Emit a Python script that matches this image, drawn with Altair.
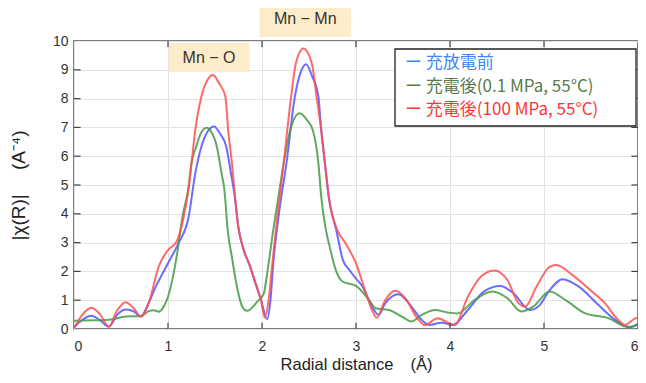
import altair as alt
import pandas as pd

# ---------------- data ----------------
series_names = ["充放電前", "充電後(0.1 MPa, 55°C)", "充電後(100 MPa, 55°C)"]

blue_x = [0.00, 0.09, 0.185, 0.28, 0.37, 0.46, 0.55, 0.64, 0.71, 0.78, 0.87, 1.00, 1.11, 1.22,
          1.29, 1.355, 1.42, 1.49, 1.55, 1.62, 1.67, 1.71, 1.75, 1.80, 1.87, 1.93, 1.99, 2.055,
          2.09, 2.12, 2.18, 2.26, 2.35, 2.41, 2.47, 2.53, 2.60, 2.63, 2.67, 2.71, 2.79, 2.86,
          2.93, 3.00, 3.07, 3.17, 3.24, 3.31, 3.45, 3.59, 3.70, 3.78, 3.91, 4.03, 4.19, 4.36,
          4.535, 4.675, 4.85, 4.955, 5.06, 5.20, 5.37, 5.58, 5.76, 5.90, 5.99]
blue_y = [0.05, 0.32, 0.46, 0.30, 0.08, 0.50, 0.68, 0.60, 0.43, 0.80, 1.47, 2.28, 2.97, 3.90,
          5.40, 6.33, 6.85, 7.03, 6.80, 6.33, 5.40, 4.60, 3.50, 2.80, 2.20, 1.60, 1.00, 0.34,
          1.00, 2.28, 4.00, 5.75, 8.07, 8.90, 9.19, 8.80, 8.07, 6.91, 5.75, 4.59, 3.44, 2.40,
          2.05, 1.75, 1.47, 0.78, 0.49, 0.89, 1.21, 0.78, 0.31, 0.14, 0.22, 0.14, 0.66, 1.30,
          1.49, 1.24, 0.66, 0.83, 1.35, 1.73, 1.47, 0.83, 0.31, 0.06, 0.14]

green_x = [0.00, 0.20, 0.37, 0.55, 0.71, 0.80, 0.85, 0.90, 0.95, 1.00, 1.08, 1.16, 1.22, 1.25,
           1.30, 1.35, 1.41, 1.46, 1.52, 1.57, 1.60, 1.635, 1.68, 1.72, 1.79, 1.84, 1.95, 2.02,
           2.05, 2.12, 2.18, 2.23, 2.30, 2.40, 2.48, 2.54, 2.60, 2.63, 2.68, 2.72, 2.79, 2.86,
           3.00, 3.14, 3.21, 3.35, 3.49, 3.59, 3.70, 3.84, 3.98, 4.08, 4.26, 4.45, 4.61, 4.76,
           4.885, 5.06, 5.23, 5.44, 5.69, 5.86, 5.93, 6.00]
green_y = [0.29, 0.30, 0.32, 0.43, 0.45, 0.63, 0.65, 0.60, 0.75, 1.12, 2.28, 4.00, 4.94, 5.75,
           6.33, 6.80, 6.99, 6.85, 6.33, 5.40, 4.83, 3.44, 2.50, 1.70, 0.78, 0.63, 0.95, 1.24,
           1.82, 3.44, 4.70, 5.75, 6.90, 7.49, 7.25, 6.91, 5.75, 4.59, 3.44, 2.86, 2.00, 1.64,
           1.50, 1.00, 0.72, 0.66, 0.43, 0.26, 0.49, 0.66, 0.57, 0.54, 1.00, 1.30, 1.07, 0.61,
           0.78, 1.30, 1.00, 0.54, 0.37, 0.10, 0.08, 0.20]

red_x = [0.00, 0.09, 0.185, 0.28, 0.37, 0.46, 0.55, 0.64, 0.71, 0.80, 0.90, 1.00, 1.09, 1.16,
         1.22, 1.25, 1.29, 1.355, 1.42, 1.48, 1.54, 1.61, 1.64, 1.68, 1.71, 1.75, 1.80, 1.87,
         1.93, 1.99, 2.03, 2.07, 2.11, 2.16, 2.23, 2.31, 2.36, 2.44, 2.53, 2.58, 2.63, 2.67,
         2.71, 2.80, 2.89, 2.93, 3.00, 3.07, 3.12, 3.17, 3.22, 3.31, 3.42, 3.54, 3.64, 3.73,
         3.87, 3.99, 4.05, 4.19, 4.33, 4.47, 4.61, 4.73, 4.80, 4.92, 5.06, 5.13, 5.30, 5.51,
         5.65, 5.79, 5.86, 5.97, 6.00]
red_y = [0.03, 0.50, 0.74, 0.50, 0.08, 0.65, 0.93, 0.70, 0.43, 0.95, 2.16, 2.74, 3.03, 3.78,
         4.90, 5.75, 6.91, 8.07, 8.65, 8.82, 8.55, 8.07, 6.91, 5.75, 4.70, 3.50, 2.80, 2.20,
         1.60, 1.00, 0.40, 1.00, 2.28, 3.80, 5.75, 8.07, 9.22, 9.74, 9.22, 8.07, 6.91, 5.75,
         4.59, 3.44, 2.97, 2.74, 2.28, 1.60, 1.10, 0.66, 0.39, 1.00, 1.33, 1.00, 0.43, 0.14,
         0.37, 0.20, 0.14, 1.12, 1.82, 2.03, 1.70, 0.89, 0.78, 1.47, 2.16, 2.22, 1.88, 1.30,
         0.89, 0.31, 0.14, 0.37, 0.40]

x_ticks = [0, 1, 2, 3, 4, 5, 6]
y_ticks = [0, 1, 2, 3, 4, 5, 6, 7, 8, 9, 10]

annot_labels = ["Mn − O", "Mn − Mn"]
annot_x0 = [1.007, 1.972]
annot_x1 = [1.867, 2.948]
annot_y0 = [8.92, 10.14]
annot_y1 = [9.93, 11.42]

line_colors = ["#4f55ff", "#449a44", "#ff4f4f"]
text_colors = ["#3f86f0", "#587a4c", "#ff3535"]

# ---------------- tables ----------------
rows = []
for name, xs, ys in zip(series_names, [blue_x, green_x, red_x], [blue_y, green_y, red_y]):
    for x, y in zip(xs, ys):
        rows.append({"r": x, "chi": y, "series": name})
df = pd.DataFrame(rows)

ann = pd.DataFrame({
    "label": annot_labels, "x0": annot_x0, "x1": annot_x1, "y0": annot_y0, "y1": annot_y1,
})
ann["cx"] = (ann["x0"] + ann["x1"]) / 2
ann["cy"] = (ann["y0"] + ann["y1"]) / 2

# inward tick marks, built from the tick values
tick_len_x = 0.07   # in x units
tick_len_y = 0.22   # in y units
xt = x_ticks[1:-1]
yt = y_ticks[1:-1]
tick_rows = []
for t in xt:
    tick_rows.append({"xa": t, "xb": t, "ya": 0, "yb": tick_len_y})
    tick_rows.append({"xa": t, "xb": t, "ya": 10, "yb": 10 - tick_len_y})
for t in yt:
    tick_rows.append({"xa": 0, "xb": tick_len_x, "ya": t, "yb": t})
    tick_rows.append({"xa": 6, "xb": 6 - tick_len_x, "ya": t, "yb": t})
ticks_df = pd.DataFrame(tick_rows)

xs_ = alt.Scale(domain=[0, 6], nice=False, zero=False)
ys_ = alt.Scale(domain=[0, 10], nice=False, zero=False)

axis_font = "Liberation Sans"

x_axis = alt.Axis(
    values=x_ticks, format="d", title="Radial distance　(Å)", labelFontSize=14,
    labelFont=axis_font, labelColor="#333", labelPadding=10, titleFont=axis_font,
    titleFontSize=16.5, titleFontWeight="normal", titleColor="#222", titlePadding=3,
    grid=True, gridColor="#e2e2e2", domain=False, ticks=False, labelOverlap=False)
y_axis = alt.Axis(
    values=y_ticks, format="d", title="|χ(R)|　 (A⁻⁴)", labelFontSize=14,
    labelFont=axis_font, labelColor="#333", labelPadding=6, titleFont=axis_font,
    titleFontSize=19, titleFontWeight="normal", titleColor="#222", titlePadding=24,
    grid=True, gridColor="#e2e2e2", domain=False, ticks=False, labelOverlap=False)


def qx(field):
    return alt.X(field, scale=xs_, axis=x_axis)


def qy(field):
    return alt.Y(field, scale=ys_, axis=y_axis)


lines = alt.Chart(df).mark_line(strokeWidth=2, interpolate="monotone", clip=True,
                                opacity=0.85).encode(
    x=qx("r:Q"),
    y=qy("chi:Q"),
    color=alt.Color("series:N", scale=alt.Scale(domain=series_names, range=line_colors),
                    legend=None),
)

ticks = alt.Chart(ticks_df).mark_rule(color="#444", strokeWidth=1.2).encode(
    x=qx("xa:Q"), x2="xb:Q", y=qy("ya:Q"), y2="yb:Q")

ann_rect = alt.Chart(ann).mark_rect(fill="#fdecc9", clip=False).encode(
    x=qx("x0:Q"), x2="x1:Q", y=qy("y0:Q"), y2="y1:Q")
ann_text = alt.Chart(ann).mark_text(font=axis_font, fontSize=16, color="#333",
                                    baseline="middle", align="center").encode(
    x=qx("cx:Q"), y=qy("cy:Q"), text="label:N")

# legend box (pixel layout inside the plot area)
legend_box = alt.Chart(pd.DataFrame({"k": [0]})).mark_rect(
    fill="white", stroke="#222", strokeWidth=1.3).encode(
    x=alt.value(321), x2=alt.value(562), y=alt.value(8), y2=alt.value(85))
legend_rows = []
for i, (name, col) in enumerate(zip(series_names, text_colors)):
    legend_rows.append(
        alt.Chart(pd.DataFrame({"label": ["ー " + name]})).mark_text(
            font="Noto Sans CJK JP", fontSize=17, color=col, align="left",
            baseline="middle").encode(
            x=alt.value(331), y=alt.value(22 + i * 23.5), text="label:N"))

chart = alt.layer(
    lines, ann_rect, ann_text, ticks, legend_box, *legend_rows
).properties(
    width=564, height=288,
    autosize=alt.AutoSizeParams(type="none"),
    padding={"left": 66, "top": 33, "right": 0, "bottom": 46},
    background="white",
).configure_view(stroke="#555", strokeWidth=1.5)

chart.save("out.html", embed_options={"renderer": "svg", "actions": False})
